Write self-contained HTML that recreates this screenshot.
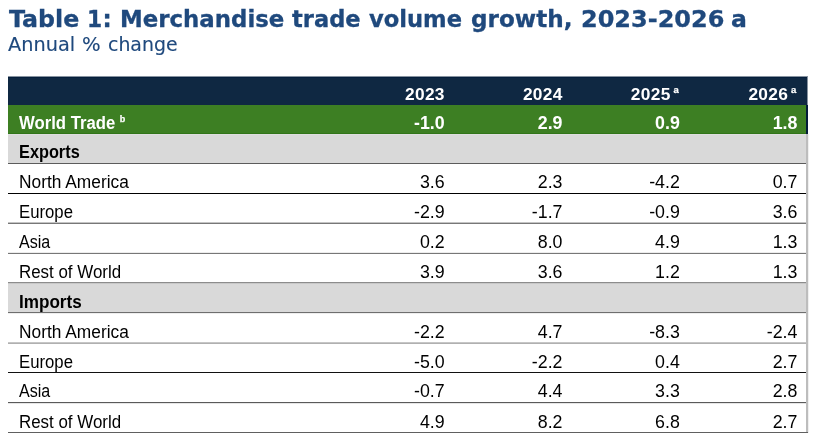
<!DOCTYPE html>
<html><head><meta charset="utf-8"><title>Table 1</title>
<style>
html,body{margin:0;padding:0;background:#fff;}
body{width:814px;height:440px;overflow:hidden;position:relative;font-family:"Liberation Sans",sans-serif;}
.wd{position:absolute;top:0;left:0;transform-origin:0 0;display:block}
.title{position:absolute;left:0px;top:6px;font-family:"DejaVu Sans","Liberation Sans",sans-serif;font-weight:bold;font-size:23px;line-height:26px;color:#1f497d;-webkit-text-stroke:0.3px #1f497d;white-space:nowrap;}
.sub{position:absolute;left:0px;top:33px;font-family:"DejaVu Sans","Liberation Sans",sans-serif;font-size:19px;line-height:22px;color:#1f497d;-webkit-text-stroke:0.15px #1f497d;white-space:nowrap;}
.bg{position:absolute;left:8px;width:798px;}
.ln{position:absolute;left:8px;width:798px;height:1px;}
.t{position:absolute;font-size:17.5px;line-height:29px;height:29px;white-space:nowrap;color:#000;transform-origin:0 50%;}
.n{position:absolute;font-size:17.8px;line-height:29px;height:29px;white-space:nowrap;color:#000;text-align:right;}
.n.h{font-size:17.33px;letter-spacing:0.3px;margin-right:-0.2px}.b{font-weight:bold}.t.b{font-size:17.5px}.w{color:#fff}
sup{font-size:9.5px;line-height:0;vertical-align:7px;font-weight:bold;-webkit-text-stroke:0.25px currentColor}
.h sup{margin-left:-2.2px;margin-right:0.9px}
</style></head><body>
<div class="title"><span class="wd" style="left:8.80px;transform:scaleX(1.0299)">Table</span> <span class="wd" style="left:87.01px;transform:scaleX(0.9462)">1</span><span class="wd" style="left:102.60px;transform:scaleX(1.0000)">:</span> <span class="wd" style="left:119.81px;transform:scaleX(0.9938)">Merchandise</span> <span class="wd" style="left:292.30px;transform:scaleX(0.9812)">trade</span> <span class="wd" style="left:368.50px;transform:scaleX(0.9830)">volume</span> <span class="wd" style="left:471.19px;transform:scaleX(1.0051)">growth,</span> <span class="wd" style="left:580.91px;transform:scaleX(1.0425)">2023-2026</span> <span class="wd" style="left:731.28px;transform:scaleX(1.0231)">a</span></div>
<div class="sub"><span class="wd" style="left:8.20px;transform:scaleX(1.0156)">Annual</span> <span class="wd" style="left:81.97px;transform:scaleX(1.0312)">%</span> <span class="wd" style="left:108.31px;transform:scaleX(0.9941)">change</span></div>
<div class="bg" style="top:76px;height:29px;width:800px;background:#8793a0"></div>
<div class="bg" style="top:77px;height:28px;width:799px;background:#0f2842"></div>
<div class="bg" style="top:77px;height:1px;width:799px;background:#061f3c"></div>
<div class="bg" style="top:105px;height:29px;width:800px;background:#041c3a"></div>
<div class="bg" style="top:105px;height:29px;background:#3d7f23"></div>
<div class="bg" style="top:133px;height:1px;background:#317519"></div>
<div class="bg" style="top:134px;height:299px;left:806px;width:2px;background:#bdbdbd"></div>
<div class="bg" style="top:134px;height:299px;left:808px;width:1px;background:#f0f0f0"></div>
<div class="bg" style="top:134px;height:29px;background:#d9d9d9"></div>
<div class="bg" style="top:134px;height:1px;background:#dedede"></div>
<div class="bg" style="top:283px;height:29px;background:#d9d9d9"></div>
<div class="ln" style="top:163px;background:#5c5c5c"></div>
<div class="ln" style="top:193px;background:#000"></div>
<div class="ln" style="top:223px;background:#777"></div>
<div class="ln" style="top:253px;background:#777"></div>
<div class="ln" style="top:282px;background:#8c8c8c"></div>
<div class="ln" style="top:312px;background:#6e6e6e"></div>
<div class="ln" style="top:343px;background:#b0b0b0"></div>
<div class="ln" style="top:372px;background:#111"></div>
<div class="ln" style="top:402px;background:#5a5a5a"></div>
<div class="ln" style="top:432px;background:#606060;width:800px"></div>
<div class="ln" style="top:222px;background:#c4c4c4"></div>
<div class="ln" style="top:252px;background:#ececec"></div>
<div class="ln" style="top:283px;background:#c8c8c8"></div>
<div class="ln" style="top:313px;background:#eee"></div>
<div class="ln" style="top:342px;background:#c6c6c6"></div>
<div class="ln" style="top:403px;background:#e6e6e6"></div>
<div class="n b w h" style="right:369.4px;top:80px;">2023</div>
<div class="n b w h" style="right:251.5px;top:80px;">2024</div>
<div class="n b w h" style="right:134.20000000000005px;top:80px;">2025 <sup>a</sup></div>
<div class="n b w h" style="right:16.600000000000023px;top:80px;">2026 <sup>a</sup></div>
<div class="t b w" style="left:19px;top:109px;transform:scaleX(0.954);">World Trade <sup>b</sup></div>
<div class="n b w" style="right:369.4px;top:109px;">-1.0</div>
<div class="n b w" style="right:251.5px;top:109px;">2.9</div>
<div class="n b w" style="right:134.20000000000005px;top:109px;">0.9</div>
<div class="n b w" style="right:16.600000000000023px;top:109px;">1.8</div>
<div class="t b" style="left:18.77px;top:138px;transform:scaleX(0.9317);">Exports</div>
<div class="t " style="left:18.96px;top:168px;transform:scaleX(0.9905);">North America</div>
<div class="n " style="right:369.4px;top:168px;">3.6</div>
<div class="n " style="right:251.5px;top:168px;">2.3</div>
<div class="n " style="right:134.20000000000005px;top:168px;">-4.2</div>
<div class="n " style="right:16.600000000000023px;top:168px;">0.7</div>
<div class="t " style="left:18.84px;top:198px;transform:scaleX(0.9564);">Europe</div>
<div class="n " style="right:369.4px;top:198px;">-2.9</div>
<div class="n " style="right:251.5px;top:198px;">-1.7</div>
<div class="n " style="right:134.20000000000005px;top:198px;">-0.9</div>
<div class="n " style="right:16.600000000000023px;top:198px;">3.6</div>
<div class="t " style="left:18.9px;top:228px;transform:scaleX(0.9176);">Asia</div>
<div class="n " style="right:369.4px;top:228px;">0.2</div>
<div class="n " style="right:251.5px;top:228px;">8.0</div>
<div class="n " style="right:134.20000000000005px;top:228px;">4.9</div>
<div class="n " style="right:16.600000000000023px;top:228px;">1.3</div>
<div class="t " style="left:18.83px;top:258px;transform:scaleX(0.9663);">Rest of World</div>
<div class="n " style="right:369.4px;top:258px;">3.9</div>
<div class="n " style="right:251.5px;top:258px;">3.6</div>
<div class="n " style="right:134.20000000000005px;top:258px;">1.2</div>
<div class="n " style="right:16.600000000000023px;top:258px;">1.3</div>
<div class="t b" style="left:18.72px;top:288px;transform:scaleX(0.9774);">Imports</div>
<div class="t " style="left:18.96px;top:318px;transform:scaleX(0.9905);">North America</div>
<div class="n " style="right:369.4px;top:318px;">-2.2</div>
<div class="n " style="right:251.5px;top:318px;">4.7</div>
<div class="n " style="right:134.20000000000005px;top:318px;">-8.3</div>
<div class="n " style="right:16.600000000000023px;top:318px;">-2.4</div>
<div class="t " style="left:18.84px;top:348px;transform:scaleX(0.9564);">Europe</div>
<div class="n " style="right:369.4px;top:348px;">-5.0</div>
<div class="n " style="right:251.5px;top:348px;">-2.2</div>
<div class="n " style="right:134.20000000000005px;top:348px;">0.4</div>
<div class="n " style="right:16.600000000000023px;top:348px;">2.7</div>
<div class="t " style="left:18.9px;top:377px;transform:scaleX(0.9176);">Asia</div>
<div class="n " style="right:369.4px;top:377px;">-0.7</div>
<div class="n " style="right:251.5px;top:377px;">4.4</div>
<div class="n " style="right:134.20000000000005px;top:377px;">3.3</div>
<div class="n " style="right:16.600000000000023px;top:377px;">2.8</div>
<div class="t " style="left:18.83px;top:408px;transform:scaleX(0.9663);">Rest of World</div>
<div class="n " style="right:369.4px;top:408px;">4.9</div>
<div class="n " style="right:251.5px;top:408px;">8.2</div>
<div class="n " style="right:134.20000000000005px;top:408px;">6.8</div>
<div class="n " style="right:16.600000000000023px;top:408px;">2.7</div>
</body></html>
